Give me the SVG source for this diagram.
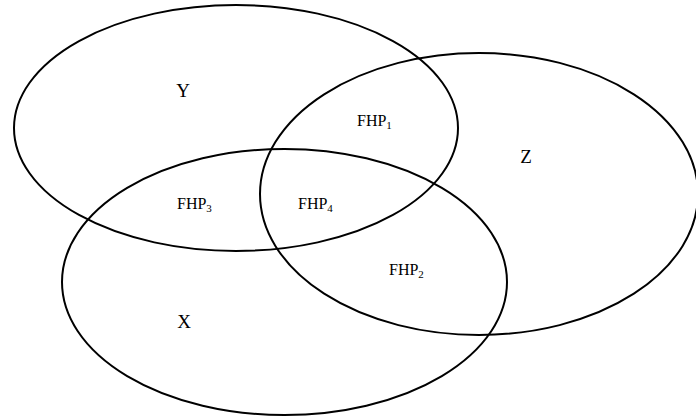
<svg xmlns="http://www.w3.org/2000/svg" width="696" height="418" viewBox="0 0 696 418">
<style>
.set{fill:none;stroke:#000;stroke-width:2}
.lbl{font-family:"Liberation Serif","Times New Roman",serif;font-size:19px;fill:#000}
.rgn{font-family:"Liberation Serif","Times New Roman",serif;font-size:16px;fill:#000}
.sub{font-size:11px}
</style>
<rect width="696" height="418" fill="#fff"/>
<g id="setY">
<ellipse class="set" cx="236" cy="128" rx="222" ry="123"/>
<text class="lbl" x="183" y="97" text-anchor="middle">Y</text>
</g>
<g id="setZ">
<ellipse class="set" cx="479" cy="194" rx="219" ry="141"/>
<text class="lbl" x="526" y="163" text-anchor="middle">Z</text>
</g>
<g id="setX">
<ellipse class="set" cx="284.5" cy="282" rx="222.5" ry="133"/>
<text class="lbl" x="184" y="328" text-anchor="middle">X</text>
</g>
<g id="regions">
<g id="fhp1"><text class="rgn" x="357" y="126">FHP<tspan class="sub" dy="3">1</tspan></text></g>
<g id="fhp2"><text class="rgn" x="389" y="275">FHP<tspan class="sub" dy="3">2</tspan></text></g>
<g id="fhp3"><text class="rgn" x="177" y="209">FHP<tspan class="sub" dy="3">3</tspan></text></g>
<g id="fhp4"><text class="rgn" x="298" y="209">FHP<tspan class="sub" dy="3">4</tspan></text></g>
</g>
<g id="connectors"></g>
</svg>
